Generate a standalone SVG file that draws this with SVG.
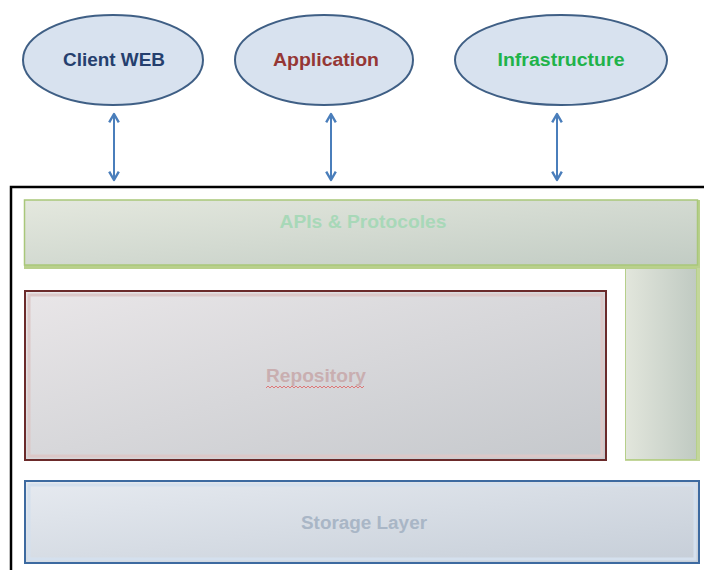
<svg xmlns="http://www.w3.org/2000/svg" width="704" height="570" viewBox="0 0 704 570">
<defs>
<linearGradient id="gGreen" x1="0" y1="0" x2="1" y2="1">
<stop offset="0" stop-color="#e4e8de"/><stop offset="1" stop-color="#c2ccc4"/>
</linearGradient>
<linearGradient id="gGreenV" x1="0" y1="0" x2="1" y2="0">
<stop offset="0" stop-color="#e2e6dc"/><stop offset="1" stop-color="#c0cac2"/>
</linearGradient>
<linearGradient id="gRed" x1="0" y1="0" x2="1" y2="1">
<stop offset="0" stop-color="#e9e6e8"/><stop offset="1" stop-color="#c5c8cc"/>
</linearGradient>
<linearGradient id="gBlue" x1="0" y1="0" x2="1" y2="1">
<stop offset="0" stop-color="#e6eaf0"/><stop offset="1" stop-color="#c6ced8"/>
</linearGradient>
<marker id="ah" viewBox="0 0 10 10" refX="8.5" refY="5" markerWidth="6" markerHeight="6" orient="auto-start-reverse">
<path d="M1.5,1 L8.5,5 L1.5,9" fill="none" stroke="#4a7ebb" stroke-width="2" stroke-linejoin="round"/>
</marker>
<style>
.ell{fill:#d8e2ef;stroke:#3f5f85;stroke-width:2}
.t{font-family:"Liberation Sans","Open Sans",sans-serif;font-weight:bold;font-size:18px;text-anchor:middle}
.conn{stroke:#4a7ebb;stroke-width:2;fill:none;marker-start:url(#ah);marker-end:url(#ah)}
</style>
</defs>
<rect width="704" height="570" fill="#ffffff"/>
<path d="M11,570 V187 H704" fill="none" stroke="#000" stroke-width="2.5"/>
<g id="client-web">
<ellipse class="ell" cx="113" cy="60" rx="90" ry="45"/>
<text class="t" x="114" y="66" fill="#253f6e" textLength="102" lengthAdjust="spacingAndGlyphs">Client WEB</text>
</g>
<g id="application">
<ellipse class="ell" cx="324" cy="60" rx="89" ry="45"/>
<text class="t" x="326" y="66" fill="#953735" textLength="106" lengthAdjust="spacingAndGlyphs">Application</text>
</g>
<g id="infrastructure">
<ellipse class="ell" cx="561" cy="60" rx="106" ry="45"/>
<text class="t" x="561" y="66" fill="#1fb34a" textLength="127" lengthAdjust="spacingAndGlyphs">Infrastructure</text>
</g>
<g id="connectors">
<line class="conn" x1="114" y1="114" x2="114" y2="180"/>
<line class="conn" x1="331" y1="114" x2="331" y2="180"/>
<line class="conn" x1="557" y1="114" x2="557" y2="180"/>
</g>
<g id="apis">
<rect x="24" y="200" width="676" height="69" fill="#b9d08c"/>
<rect x="24.5" y="200" width="673" height="65" fill="url(#gGreen)" stroke="#a9c77a" stroke-width="1.5"/>
<text class="t" x="363" y="228" fill="#a8d8b8" textLength="167" lengthAdjust="spacingAndGlyphs">APIs  &amp; Protocoles</text>
</g>
<g id="apis-side">
<rect x="625" y="268" width="75" height="193" fill="#c3d69b"/>
<rect x="625.5" y="268.5" width="71" height="191" fill="url(#gGreenV)" stroke="#b6cf8a" stroke-width="1"/>
</g>
<g id="repository">
<rect x="25" y="291" width="581" height="169" fill="url(#gRed)" stroke="#6b2a2a" stroke-width="2"/>
<rect x="29" y="295" width="573" height="161" fill="none" stroke="#dcc8c8" stroke-width="3"/>
<text class="t" x="316" y="382" fill="#c9aeb0" textLength="100" lengthAdjust="spacingAndGlyphs">Repository</text>
<path d="M266,388 l2,-2 l2,2 l2,-2 l2,2 l2,-2 l2,2 l2,-2 l2,2 l2,-2 l2,2 l2,-2 l2,2 l2,-2 l2,2 l2,-2 l2,2 l2,-2 l2,2 l2,-2 l2,2 l2,-2 l2,2 l2,-2 l2,2 l2,-2 l2,2 l2,-2 l2,2 l2,-2 l2,2 l2,-2 l2,2 l2,-2 l2,2 l2,-2 l2,2 l2,-2 l2,2 l2,-2 l2,2 l2,-2 l2,2 l2,-2 l2,2 l2,-2 l2,2 l2,-2 l2,2 l2,-2" fill="none" stroke="#e06060" stroke-width="0.8"/>
</g>
<g id="storage">
<rect x="25" y="481" width="674" height="82" fill="url(#gBlue)" stroke="#3d6aa0" stroke-width="2"/>
<rect x="29" y="485" width="666" height="74" fill="none" stroke="#d4e0ee" stroke-width="3"/>
<text class="t" x="364" y="529" fill="#a9b6c6" textLength="126" lengthAdjust="spacingAndGlyphs">Storage Layer</text>
</g>
</svg>
